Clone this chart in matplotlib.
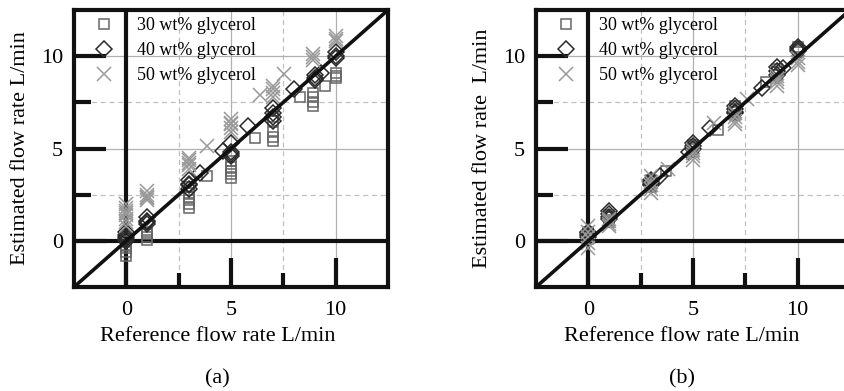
import matplotlib
matplotlib.use("Agg")
import matplotlib.pyplot as plt

plt.rcParams["font.family"] = ["Liberation Serif", "DejaVu Serif"]

labels = ["30 wt% glycerol", "40 wt% glycerol", "50 wt% glycerol"]

# panel (a): reference flow rate vs estimated flow rate
a_ref_30 = [0, 0, 0, 0, 0, 1, 1, 1, 1, 3, 3, 3, 3, 3, 3, 3.85, 5, 5, 5, 5, 5, 6.15,
            7, 7, 7, 7, 7, 8.3, 8.9, 8.9, 8.9, 8.9, 9.5, 10, 10, 10]
a_est_30 = [-0.8, -0.6, -0.4, -0.2, 0.0, 0.05, 0.2, 0.35, 0.5, 1.8, 2.0, 2.2, 2.4, 2.6, 2.9, 3.5,
            3.4, 3.6, 3.8, 4.0, 4.3, 5.55, 5.4, 5.6, 5.9, 6.5, 6.7, 7.8, 7.3, 7.5, 7.8, 8.0, 8.4,
            8.8, 8.9, 9.1]
a_ref_40 = [0, 0, 0, 0, 0, 1, 1, 1, 1, 3, 3, 3, 3, 3.5, 4.6, 5, 5, 5, 5, 5.8,
            7, 7, 7, 7, 8.0, 9, 9, 9, 9.3, 10, 10, 10]
a_est_40 = [0.0, 0.1, 0.2, 0.3, 0.5, 0.9, 1.0, 1.1, 1.3, 2.8, 3.0, 3.1, 3.3, 3.7, 4.85,
            4.6, 4.7, 4.8, 5.3, 6.2, 6.5, 6.7, 6.9, 7.2, 8.2, 8.7, 8.8, 9.0, 9.1, 9.9, 10.0, 10.2]
a_ref_50 = [0, 0, 0, 0, 0, 0, 0, 0, 1, 1, 1, 1, 1, 3, 3, 3, 3, 3, 3.85, 5, 5, 5, 5, 5, 6.4,
            7, 7, 7, 7, 7.55, 8.9, 8.9, 8.9, 10, 10, 10]
a_est_50 = [0.8, 1.0, 1.2, 1.4, 1.5, 1.6, 1.8, 2.0, 2.2, 2.3, 2.4, 2.5, 2.7, 3.9, 4.1, 4.2,
            4.4, 4.5, 5.15, 5.9, 6.1, 6.3, 6.4, 6.6, 7.9, 7.8, 8.0, 8.2, 8.4, 9.05,
            9.8, 9.95, 10.1, 10.8, 10.95, 11.1]

# panel (b)
b_ref_30 = [0, 0, 0, 0, 1, 1, 1, 1, 3, 3, 3, 3, 3.7, 5, 5, 5, 5, 6.2, 7, 7, 7, 7, 8.5,
            9, 9, 9, 10, 10, 10]
b_est_30 = [0.1, 0.25, 0.4, 0.5, 1.0, 1.15, 1.3, 1.4, 2.9, 3.05, 3.2, 3.3, 3.8, 4.8, 4.95,
            5.1, 5.2, 6.0, 6.8, 7.0, 7.15, 7.3, 8.6, 9.0, 9.15, 9.3, 10.2, 10.35, 10.5]
b_ref_40 = [0, 0, 0, 0, 1, 1, 1, 1, 3, 3, 3, 3, 3.4, 4.8, 5, 5, 5, 5.8, 7, 7, 7, 7, 8.3,
            9, 9, 9, 9.3, 10, 10, 10]
b_est_40 = [0.2, 0.3, 0.4, 0.5, 1.2, 1.3, 1.45, 1.6, 3.0, 3.1, 3.2, 3.3, 3.5, 4.8, 5.0,
            5.15, 5.3, 6.1, 6.9, 7.0, 7.15, 7.3, 8.3, 9.0, 9.2, 9.4, 9.35, 10.3, 10.4, 10.5]
b_ref_50 = [0, 0, 0, 0, 0, 1, 1, 1, 1, 3, 3, 3, 3, 3, 3.8, 5, 5, 5, 5, 6.0, 7, 7, 7, 7, 7.6,
            9, 9, 9, 9, 10, 10, 10]
b_est_50 = [-0.4, -0.1, 0.2, 0.5, 0.8, 0.8, 0.9, 1.05, 1.2, 2.6, 2.8, 3.0, 3.2, 3.5, 3.9,
            4.4, 4.6, 4.75, 4.9, 6.4, 6.3, 6.5, 6.7, 6.9, 7.7, 8.4, 8.6, 8.75, 8.9,
            9.5, 9.7, 9.9]

styles = [
    dict(marker="s", ms=7, mfc="none", mec="#666666", mew=1.1),
    dict(marker="D", ms=8.5, mfc="none", mec="#2a2a2a", mew=1.1),
    dict(marker="x", ms=10, mfc="none", mec="#999999", mew=1.1),
]


def draw_panel(ax, series, ylabel, xlab_x, caption):
    for (ref, est), label, st in zip(series, labels, styles):
        ax.plot(ref, est, ls="none", label=label, zorder=3, **st)

    ax.set_xlim(-2.5, 12.5)
    ax.set_ylim(-2.5, 12.5)
    ax.set_xticks([0, 5, 10])
    ax.set_yticks([0, 5, 10])
    ax.set_xticks([2.5, 7.5], minor=True)
    ax.set_yticks([2.5, 7.5], minor=True)

    ax.grid(which="major", color="#b0b0b0", lw=0.9, ls="-", zorder=0)
    ax.grid(which="minor", color="#c0c0c0", lw=0.9, ls=(0, (4, 3)), zorder=0)
    ax.set_axisbelow(True)

    ax.axhline(0, color="#111111", lw=3, zorder=2)
    ax.axvline(0, color="#111111", lw=3, zorder=2)
    ax.axline((0, 0), slope=1, color="#111111", lw=2.6, zorder=4)

    for sp in ax.spines.values():
        sp.set_linewidth(3)
        sp.set_color("#111111")

    ax.tick_params(axis="x", which="major", direction="in", length=21, width=3,
                   color="#111111", labelsize=16, pad=10, top=False)
    ax.tick_params(axis="x", which="minor", direction="in", length=10, width=3,
                   color="#111111", top=False)
    ax.tick_params(axis="y", which="major", direction="in", length=23, width=3,
                   color="#111111", labelsize=16, pad=8, right=False)
    ax.tick_params(axis="y", which="minor", direction="in", length=12, width=3,
                   color="#111111", right=False)

    ax.set_xlabel("Reference flow rate L/min", fontsize=16)
    ax.set_ylabel(ylabel, fontsize=16)
    ax.xaxis.set_label_coords(xlab_x, -0.145)
    ax.yaxis.set_label_coords(-0.14, 0.5)

    ax.legend(loc="upper left", bbox_to_anchor=(0.067, 0.975), frameon=False, fontsize=13,
              handlelength=1.0, handletextpad=1.3, borderaxespad=0, borderpad=0,
              labelspacing=0.45)

    ax.text(xlab_x, -0.33, caption, transform=ax.transAxes, ha="center", va="center",
            fontsize=16)


fig = plt.figure(figsize=(8.44, 3.91), dpi=100)
ax_a = fig.add_axes([74 / 844, 1 - 287 / 391, 314 / 844, 277 / 391])
ax_b = fig.add_axes([536 / 844, 1 - 287 / 391, 314 / 844, 277 / 391])

draw_panel(ax_a, [(a_ref_30, a_est_30), (a_ref_40, a_est_40), (a_ref_50, a_est_50)],
           "Estimated flow rate L/min", 0.457, "(a)")
draw_panel(ax_b, [(b_ref_30, b_est_30), (b_ref_40, b_est_40), (b_ref_50, b_est_50)],
           "Estimated flow rate  L/min", 0.465, "(b)")

fig.savefig("out.png", dpi=100)
